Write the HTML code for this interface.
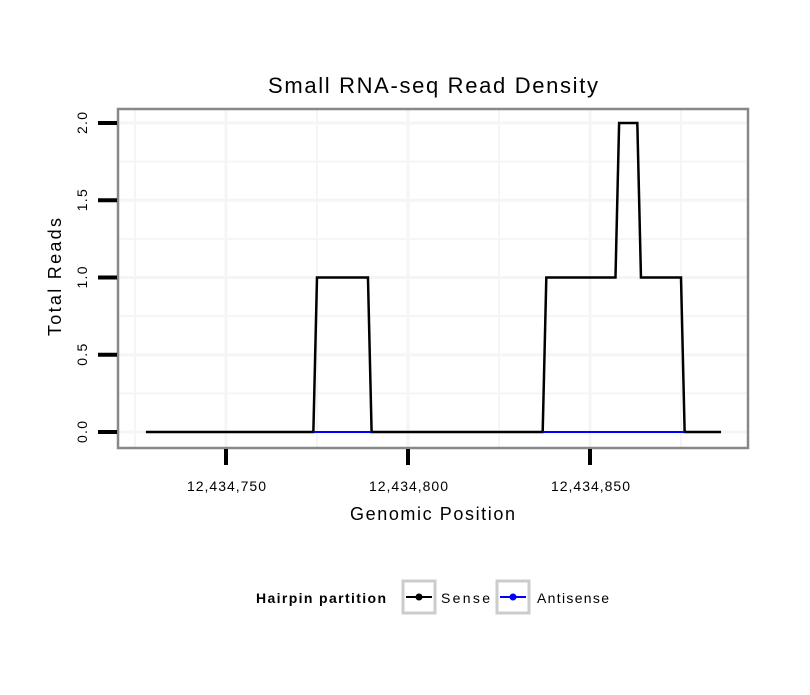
<!DOCTYPE html>
<html><head><meta charset="utf-8"><style>
body{margin:0;background:#fff;font-family:"Liberation Sans",sans-serif}
</style></head><body>
<svg width="810" height="690" xmlns="http://www.w3.org/2000/svg" font-family="Liberation Sans, sans-serif">
<rect width="810" height="690" fill="#fff"/>
<text x="268" y="93" font-size="22" textLength="330" lengthAdjust="spacing">Small RNA-seq Read Density</text>
<g id="grid"></g>
<g id="series"></g>
<rect x="118" y="109" width="630" height="339" fill="none" stroke="#888" stroke-width="2.5"/>
<g id="axes"></g>
<text x="350" y="520" font-size="18" textLength="165" lengthAdjust="spacing">Genomic Position</text>
<text transform="translate(61,336) rotate(-90)" font-size="18" textLength="118" lengthAdjust="spacing">Total Reads</text>
<g>
<text x="256" y="603" font-size="14" font-weight="bold" textLength="130" lengthAdjust="spacing">Hairpin partition</text>
<g>
<rect x="403" y="581" width="32" height="32" fill="#fff" stroke="#ccc" stroke-width="3"/>
<line x1="406" y1="597" x2="432" y2="597" stroke="#000" stroke-width="2"/><circle cx="419" cy="597" r="3.5" fill="#000"/>
<text x="441" y="603" font-size="14" textLength="49" lengthAdjust="spacing">Sense</text></g>
<g>
<rect x="497" y="581" width="32" height="32" fill="#fff" stroke="#ccc" stroke-width="3"/>
<line x1="500" y1="597" x2="526" y2="597" stroke="#00f" stroke-width="2"/><circle cx="513" cy="597" r="3.5" fill="#00f"/>
<text x="537" y="603" font-size="14" textLength="72" lengthAdjust="spacing">Antisense</text></g>
</g>
</svg>
<script>
const base = 12434000;
const sensePos = [728,774,775,789,790,837,838,857,858,863,864,875,876,886];
const senseVal = [0,0,1,1,0,0,1,1,2,2,1,1,0,0];
const antiSegments = [[774,790],[837,876]];
const xTicks = [12434750,12434800,12434850];
const xTickLabels = ["12,434,750","12,434,800","12,434,850"];
const yTicks = [0,0.5,1,1.5,2];
const yTickLabels = ["0.0","0.5","1.0","1.5","2.0"];
const NS="http://www.w3.org/2000/svg";
const X = v => 226 + (v - 12434750) * 3.64;
const Y = v => 432 - v * 154.5;
function mk(tag, attrs, parent){const e=document.createElementNS(NS,tag);for(const k in attrs)e.setAttribute(k,attrs[k]);document.getElementById(parent).appendChild(e);return e;}
for(let v=12434725; v<=12434875; v+=25){
  const l=mk('line',{x1:X(v),x2:X(v),y1:110,y2:447,stroke:'#f5f5f5','stroke-width':v%50===0?3:2},'grid');
  
  
}
for(let v=0; v<=2.01; v+=0.25){
  const l=mk('line',{x1:119,x2:747,y1:Y(v),y2:Y(v),stroke:'#f5f5f5','stroke-width':(v*2)%1===0?3:2},'grid');
  
  
}
const pts = sensePos.map((p,i)=>X(base+p)+','+Y(senseVal[i])).join(' ');
const pl = mk('polyline',{points:pts,fill:'none',stroke:'#000','stroke-width':2.5},'series');


antiSegments.forEach(s=>{
  const l=mk('line',{x1:X(base+s[0]),x2:X(base+s[1]),y1:Y(0),y2:Y(0),stroke:'#00f','stroke-width':2},'series');
  
  
});
xTicks.forEach((t,i)=>{
  const l=mk('line',{x1:X(t),x2:X(t),y1:449,y2:465,stroke:'#000','stroke-width':4},'axes');
  
  
  const tx=mk('text',{x:X(t)-39,y:491,'font-size':14,textLength:79,lengthAdjust:'spacing'},'axes');
  tx.textContent=xTickLabels[i];
  
  
});
yTicks.forEach((t,i)=>{
  const l=mk('line',{x1:98,x2:117,y1:Y(t),y2:Y(t),stroke:'#000','stroke-width':4},'axes');
  
  
  const tx=mk('text',{transform:`translate(87,${Y(t)+11}) rotate(-90)`,'font-size':14,textLength:22,lengthAdjust:'spacing'},'axes');
  tx.textContent=yTickLabels[i];
  
  
});
</script>
</body></html>
